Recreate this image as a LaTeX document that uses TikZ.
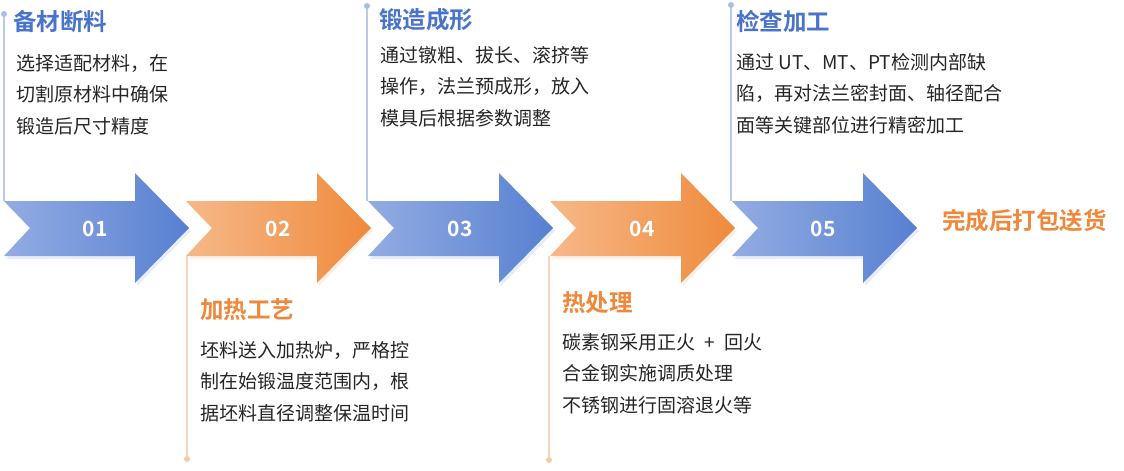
\documentclass[tikz,border=0pt]{standalone}
\usepackage{fontspec}
\setmainfont{Noto Sans CJK SC}[BoldFont={Noto Sans CJK SC Bold}]
\usetikzlibrary{shadows}

\definecolor{blueL}{HTML}{93ACE2}
\definecolor{blueD}{HTML}{5780D1}
\definecolor{orangeL}{HTML}{F6B889}
\definecolor{orangeD}{HTML}{EF8A3C}
\definecolor{blueT}{HTML}{4A74CC}
\definecolor{orangeT}{HTML}{F0883C}
\definecolor{blueLine}{HTML}{B8C9EC}
\definecolor{orangeLine}{HTML}{F9D4BA}
\definecolor{bodyText}{HTML}{262626}

\tikzset{
  chevron/.pic={
    \path[#1] (0,201) -- (131,201) -- (131,173) -- (185,228) -- (131,283)
      -- (131,256) -- (0,256) -- (26,228) -- cycle;
  }
}

\begin{document}
\begin{tikzpicture}[x=1pt, y=-1pt,
    bluestep/.style={left color=blueL, right color=blueD,
      drop shadow={shadow xshift=2pt, shadow yshift=-3pt, opacity=.35, fill=blueL!60}},
    orangestep/.style={left color=orangeL, right color=orangeD,
      drop shadow={shadow xshift=2pt, shadow yshift=-3pt, opacity=.35, fill=orangeL!60}},
    num/.style={text=white, font=\bfseries\fontsize{21}{21}\selectfont},
    bluetitle/.style={anchor=west, inner sep=0, text=blueT, font=\bfseries\fontsize{23.5}{26}\selectfont},
    orangetitle/.style={anchor=west, inner sep=0, text=orangeT, font=\bfseries\fontsize{23.5}{26}\selectfont},
    body/.style={anchor=north west, align=left, inner sep=0, text=bodyText, font=\fontsize{19}{31.5}\selectfont},
    bluedot/.style={circle, inner sep=0, minimum size=6pt, fill=blueLine!85!blueD},
    orangedot/.style={circle, inner sep=0, minimum size=6pt, fill=orangeLine!85!orangeD},
    blueline/.style={draw=blueLine, line width=1.2pt},
    orangeline/.style={draw=orangeLine, line width=1.2pt}]
  \useasboundingbox (0,0) rectangle (1124,471);

  % guide lines
  \node[bluedot] (d1) at (4,14) {};
  \node[orangedot] (d2) at (187,459) {};
  \node[bluedot] (d3) at (367,6) {};
  \node[orangedot] (d4) at (549,460) {};
  \node[bluedot] (d5) at (731,5) {};
  \coordinate (a1) at (4,201);
  \coordinate (a2) at (187,256);
  \coordinate (a3) at (367,201);
  \coordinate (a4) at (549,256);
  \coordinate (a5) at (731,201);
  \draw[blueline] (d1) -- (a1);
  \draw[orangeline] (d2) -- (a2);
  \draw[blueline] (d3) -- (a3);
  \draw[orangeline] (d4) -- (a4);
  \draw[blueline] (d5) -- (a5);

  % arrows
  \pic at (4,0) {chevron=bluestep};
  \pic at (186,0) {chevron=orangestep};
  \pic at (368,0) {chevron=bluestep};
  \pic at (550,0) {chevron=orangestep};
  \pic at (732,0) {chevron=bluestep};
  \node[num] (n1) at (95,229) {01};
  \node[num] (n2) at (278,229) {02};
  \node[num] (n3) at (460,229) {03};
  \node[num] (n4) at (642,229) {04};
  \node[num] (n5) at (823,229) {05};

  % texts
  \node[bluetitle] (t1) at (13,22) {备材断料};
  \node[body] (b1) at (16,54) {选择适配材料，在\\切割原材料中确保\\锻造后尺寸精度};
  \node[orangetitle] (t2) at (200,310) {加热工艺};
  \node[body] (b2) at (200,341) {坯料送入加热炉，严格控\\制在始锻温度范围内，根\\据坯料直径调整保温时间};
  \node[bluetitle] (t3) at (379,20) {锻造成形};
  \node[body] (b3) at (380,46) {通过镦粗、拔长、滚挤等\\操作，法兰预成形，放入\\模具后根据参数调整};
  \node[orangetitle] (t4) at (562,303) {热处理};
  \node[body] (b4) at (562,333) {碳素钢采用正火\enspace+\enspace 回火\\合金钢实施调质处理\\不锈钢进行固溶退火等};
  \node[bluetitle] (t5) at (736,21) {检查加工};
  \node[body] (b5) at (736,53) {通过 UT、MT、PT检测内部缺\\陷，再对法兰密封面、轴径配合\\面等关键部位进行精密加工};
  \node[orangetitle] (end) at (942,221) {完成后打包送货};
\end{tikzpicture}
\end{document}
